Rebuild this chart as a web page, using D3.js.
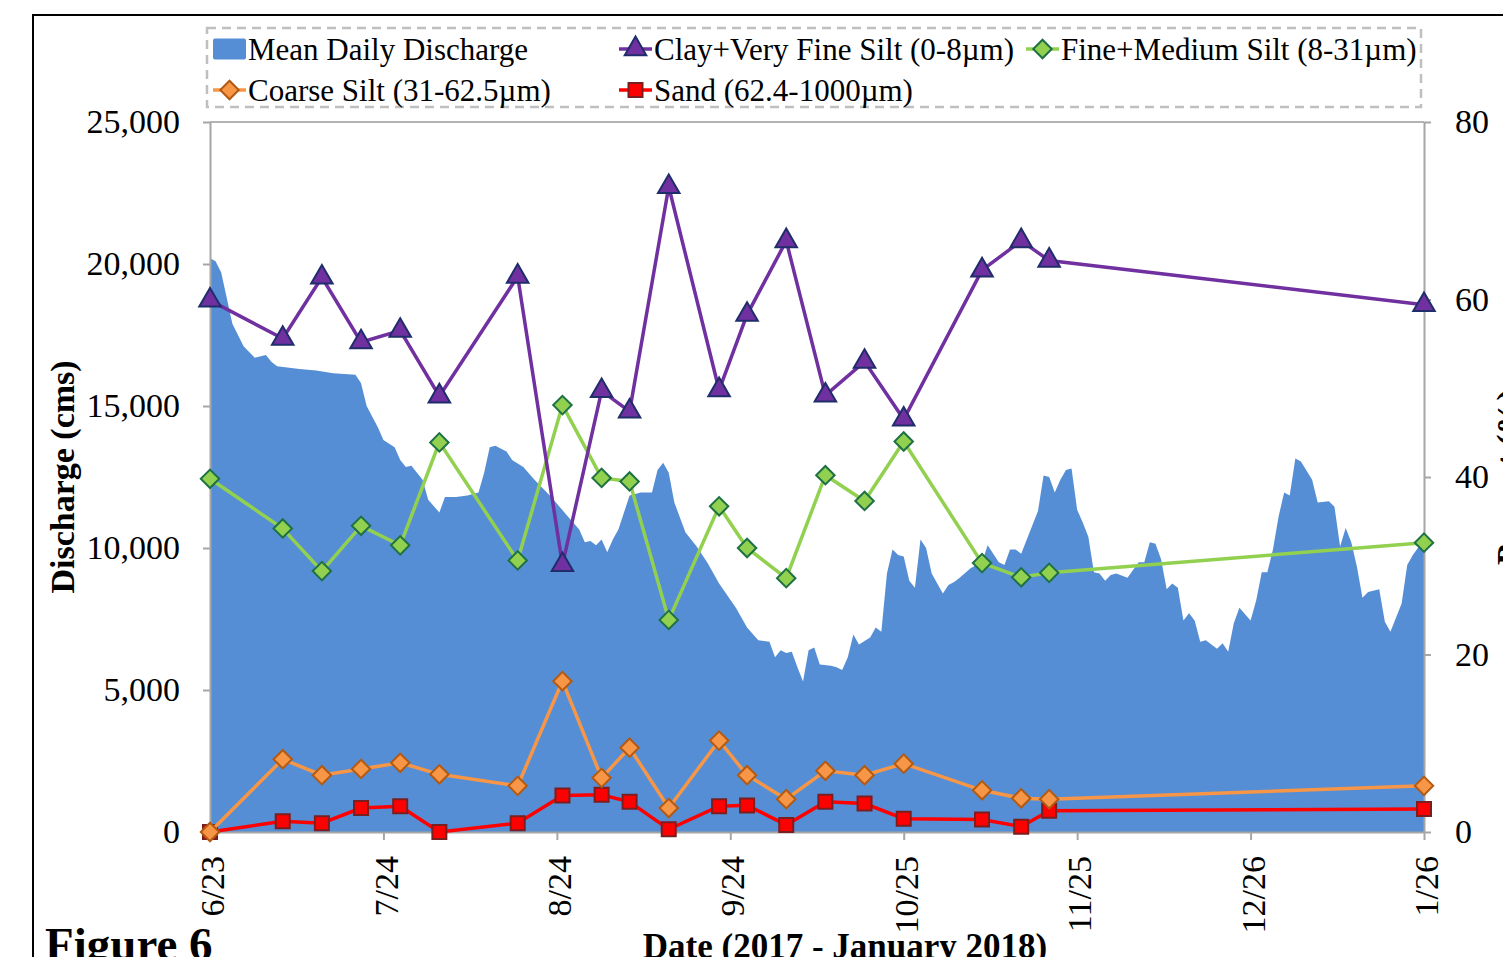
<!DOCTYPE html>
<html>
<head>
<meta charset="utf-8">
<script src="https://cdn.jsdelivr.net/npm/d3@7"></script>
<style>
  body { margin: 0; background: #fff; }
  svg text { font-family: "Liberation Serif", "Times New Roman", serif; fill: #000; }
</style>
</head>
<body>
<div id="container"></div>
<script>
/* DATA */
const startDate = "2017-06-23"
const endDate = "2018-01-26"
const tickDates = ["2017-06-23", "2017-07-24", "2017-08-24", "2017-09-24", "2017-10-25", "2017-11-25", "2017-12-26", "2018-01-26"]
const tickLabels = ["6/23", "7/24", "8/24", "9/24", "10/25", "11/25", "12/26", "1/26"]
const leftTicks = [0, 5000, 10000, 15000, 20000, 25000]
const rightTicks = [0, 20, 40, 60, 80]

// mean daily discharge (days after 6/23/2017, cms)
const dischargeDay = [0, 1, 2, 3, 4, 6, 8, 10, 11, 12, 16, 19, 22, 26, 27, 28, 30, 31, 33, 34, 35, 36, 38, 39, 41, 42, 44, 46, 48, 49,
  50, 51, 53, 54, 56, 58, 61, 64, 66, 67, 68, 69, 70, 71, 72, 73, 74, 75, 77, 79, 80, 81, 82, 83, 85, 87, 89, 91, 94, 96,
  98, 100, 101, 102, 103, 104, 105, 106, 107, 108, 109, 111, 112, 113, 114, 115, 116, 118, 119, 120, 121, 122, 123, 124, 125, 126, 127, 128, 129, 130,
  131, 132, 133, 134, 136, 138, 139, 140, 141, 142, 143, 144, 145, 146, 148, 149, 150, 151, 152, 153, 154, 155, 156, 157, 158, 159, 160, 161, 162, 164,
  166, 167, 168, 169, 170, 171, 172, 173, 174, 175, 176, 177, 178, 180, 181, 182, 183, 184, 186, 187, 188, 189, 190, 191, 192, 193, 194, 195, 197, 198,
  200, 201, 202, 203, 204, 205, 206, 207, 209, 210, 211, 213, 214, 215, 217]
const dischargeCms = [20200, 20100, 19700, 18800, 17900, 17100, 16700, 16800, 16550, 16400, 16300, 16250, 16150, 16100, 15800, 15000, 14250, 13800, 13550, 13100, 12850, 12900, 12400, 11700, 11250, 11800, 11800, 11850, 11950, 12650,
  13550, 13600, 13400, 13100, 12850, 12400, 11800, 11100, 10650, 10200, 10250, 10100, 10300, 9850, 10300, 10650, 11250, 11850, 11950, 11950, 12750, 13000, 12650, 11600, 10550, 10050, 9450, 8750, 7900, 7200,
  6750, 6700, 6150, 6400, 6300, 6350, 5800, 5300, 6400, 6500, 5900, 5850, 5800, 5700, 6150, 6950, 6600, 6850, 7200, 7050, 9100, 9950, 9750, 9700, 8850, 8600, 10300, 10000, 9100, 8750,
  8400, 8700, 8800, 8950, 9300, 9500, 10100, 9800, 9500, 9400, 9950, 9950, 9800, 10300, 11300, 12550, 12500, 11950, 12400, 12750, 12800, 11350, 10900, 10400, 9150, 9100, 8850, 9050, 9100, 8950,
  9500, 9500, 10200, 10150, 9600, 8550, 8750, 8600, 7450, 7700, 7450, 6700, 6750, 6450, 6650, 6350, 7350, 7900, 7450, 8150, 9150, 9150, 9950, 11100, 11950, 11850, 13150, 13050, 12400, 11600,
  11650, 11450, 10050, 10700, 10200, 9350, 8250, 8450, 8550, 7400, 7050, 8050, 9400, 9750, 10300]

// sediment samples (%)
const sampleDates = ["2017-06-23", "2017-07-06", "2017-07-13", "2017-07-20", "2017-07-27", "2017-08-03", "2017-08-17", "2017-08-25", "2017-09-01", "2017-09-06", "2017-09-13",
  "2017-09-22", "2017-09-27", "2017-10-04", "2017-10-11", "2017-10-18", "2017-10-25", "2017-11-08", "2017-11-15", "2017-11-20", "2018-01-26"]
const clay = [59.9, 55.6, 62.5, 55.2, 56.5, 49.1, 62.6, 30.1, 49.7, 47.4, 72.7, 49.8, 58.3, 66.6, 49.2, 53.0, 46.5, 63.3, 66.6, 64.4, 59.4]
const fineSilt = [39.8, 34.2, 29.4, 34.5, 32.3, 43.9, 30.6, 48.1, 39.9, 39.5, 23.9, 36.7, 32.0, 28.6, 40.2, 37.3, 44.0, 30.3, 28.7, 29.2, 32.6]
const coarseSilt = [0, 8.2, 6.4, 7.1, 7.8, 6.5, 5.2, 17.0, 6.1, 9.5, 2.7, 10.3, 6.4, 3.7, 6.9, 6.4, 7.7, 4.7, 3.8, 3.7, 5.2]
const sand = [0, 1.2, 1.0, 2.7, 2.9, 0, 1.0, 4.1, 4.2, 3.4, 0.3, 2.9, 3.0, 0.8, 3.4, 3.2, 1.5, 1.4, 0.6, 2.4, 2.6]

/* LAYOUT */
const width = 1503, height = 957
const margin = { top: 122, bottom: 125, left: 210, right: 79 }
const parse = d3.timeParse("%Y-%m-%d")
const start = parse(startDate)

const svg = d3.select("#container")
  .append("svg")
  .attr("width", width)
  .attr("height", height)

// SCALES
const xScale = d3.scaleTime()
  .domain([start, parse(endDate)])
  .range([margin.left, width - margin.right])

const yScale = d3.scaleLinear()
  .domain([0, 25000])
  .range([height - margin.bottom, margin.top])

const yRight = d3.scaleLinear()
  .domain([0, 80])
  .range([height - margin.bottom, margin.top])

// outer frame
svg.append("path")
  .attr("d", `M33,${height} V15 H${width}`)
  .attr("fill", "none")
  .attr("stroke", "#000")
  .attr("stroke-width", 2)

// AREA
const discharge = dischargeDay.map((d, i) => ({ date: d3.timeDay.offset(start, d), value: dischargeCms[i] }))
const area = d3.area()
  .x(d => xScale(d.date))
  .y0(yScale(0))
  .y1(d => yScale(d.value))

svg.append("path")
  .attr("class", "area")
  .attr("fill", "#558ed5")
  .attr("d", area(discharge))

// plot border (top line)
svg.append("line")
  .attr("x1", margin.left).attr("x2", width - margin.right)
  .attr("y1", margin.top).attr("y2", margin.top)
  .attr("stroke", "#b3b3b3").attr("stroke-width", 2)

// AXES
const axisColor = "#a6a6a6"
function styleAxis(g) {
  g.select(".domain").attr("stroke", axisColor).attr("stroke-width", 2)
  g.selectAll(".tick line").attr("stroke", axisColor).attr("stroke-width", 2)
  g.selectAll("text").attr("font-size", 34).attr("font-family", "Liberation Serif").attr("fill", "#000")
}

svg.append("g")
  .attr("transform", `translate(${margin.left},0)`)
  .call(d3.axisLeft(yScale).tickValues(leftTicks).tickSize(7).tickPadding(23).tickSizeOuter(0).tickFormat(d3.format(",")))
  .call(styleAxis)

svg.append("g")
  .attr("transform", `translate(${width - margin.right},0)`)
  .call(d3.axisRight(yRight).tickValues(rightTicks).tickSize(7).tickPadding(24).tickSizeOuter(0))
  .call(styleAxis)

const xAxis = svg.append("g")
  .attr("transform", `translate(0,${height - margin.bottom})`)
  .call(d3.axisBottom(xScale).tickValues(tickDates.map(parse)).tickSize(8).tickSizeOuter(0)
    .tickFormat((d, i) => tickLabels[i]))
  .call(styleAxis)

xAxis.selectAll("text")
  .attr("transform", "rotate(-90)")
  .attr("text-anchor", "end")
  .attr("x", -24)
  .attr("y", 0)
  .attr("dy", "0.4em")

// axis titles
svg.append("text")
  .attr("transform", `translate(74,${(margin.top + height - margin.bottom) / 2}) rotate(-90)`)
  .attr("text-anchor", "middle")
  .attr("font-size", 34).attr("font-weight", "bold")
  .text("Discharge (cms)")

svg.append("text")
  .attr("transform", `translate(1520,${(margin.top + height - margin.bottom) / 2}) rotate(-90)`)
  .attr("text-anchor", "middle")
  .attr("font-size", 34).attr("font-weight", "bold")
  .text("Percent (%)")

svg.append("text")
  .attr("x", 45).attr("y", 960)
  .attr("font-size", 47).attr("font-weight", "bold")
  .text("Figure 6")

svg.append("text")
  .attr("x", 845).attr("y", 958)
  .attr("text-anchor", "middle")
  .attr("font-size", 35).attr("font-weight", "bold")
  .text("Date (2017 - January 2018)")

// SERIES
const series = [
  { name: "Clay+Very Fine Silt (0-8µm)", values: clay, line: "#7030a0", fill: "#7030a0", stroke: "#1f2d6b", shape: "triangle" },
  { name: "Fine+Medium Silt (8-31µm)", values: fineSilt, line: "#92d050", fill: "#92d050", stroke: "#1e7145", shape: "diamond" },
  { name: "Coarse Silt (31-62.5µm)", values: coarseSilt, line: "#f79646", fill: "#f79646", stroke: "#b35a12", shape: "diamond" },
  { name: "Sand (62.4-1000µm)", values: sand, line: "#ff0000", fill: "#ff0000", stroke: "#7a1f1f", shape: "square" }
]

function symbolPath(shape) {
  if (shape === "triangle") return d3.symbol(d3.symbolTriangle, 200)()
  if (shape === "square") return d3.symbol(d3.symbolSquare, 196)()
  return d3.symbol(d3.symbolSquare, 170)()
}
function symbolRotate(shape) { return shape === "diamond" ? " rotate(45)" : "" }

const lineGen = d3.line()
  .x(d => xScale(d.date))
  .y(d => yRight(d.value))

// draw in reverse so clay ends on top
series.slice().reverse().forEach(s => {
  const pts = sampleDates.map((d, i) => ({ date: parse(d), value: s.values[i] }))
  svg.append("path")
    .attr("fill", "none")
    .attr("stroke", s.line)
    .attr("stroke-width", 3.5)
    .attr("d", lineGen(pts))
  svg.selectAll(null)
    .data(pts)
    .join("path")
    .attr("transform", d => `translate(${xScale(d.date)},${yRight(d.value)})${symbolRotate(s.shape)}`)
    .attr("d", symbolPath(s.shape))
    .attr("fill", s.fill)
    .attr("stroke", s.stroke)
    .attr("stroke-width", 2)
})

// LEGEND
svg.append("rect")
  .attr("x", 207).attr("y", 28)
  .attr("width", 1214).attr("height", 79)
  .attr("fill", "none")
  .attr("stroke", "#bfbfbf")
  .attr("stroke-width", 2.5)
  .attr("stroke-dasharray", "9,6")

const legendItems = [
  { x: 213, y: 49, s: null, name: "Mean Daily Discharge" },
  { x: 619, y: 49, s: series[0] },
  { x: 1026, y: 49, s: series[1] },
  { x: 213, y: 90, s: series[2] },
  { x: 619, y: 90, s: series[3] }
]

legendItems.forEach(item => {
  const g = svg.append("g").attr("transform", `translate(${item.x},${item.y})`)
  if (!item.s) {
    g.append("rect").attr("x", 0).attr("y", -10.5).attr("width", 33).attr("height", 21)
      .attr("rx", 2).attr("fill", "#558ed5")
  } else {
    g.append("line").attr("x1", 0).attr("x2", 33).attr("y1", 0).attr("y2", 0)
      .attr("stroke", item.s.line).attr("stroke-width", 3.5)
    g.append("path")
      .attr("transform", `translate(16.5,0)${symbolRotate(item.s.shape)}`)
      .attr("d", symbolPath(item.s.shape))
      .attr("fill", item.s.fill).attr("stroke", item.s.stroke).attr("stroke-width", 2)
  }
  g.append("text")
    .attr("x", 35).attr("y", 0).attr("dy", "0.35em")
    .attr("font-size", 31)
    .text(item.s ? item.s.name : item.name)
})
</script>
</body>
</html>
